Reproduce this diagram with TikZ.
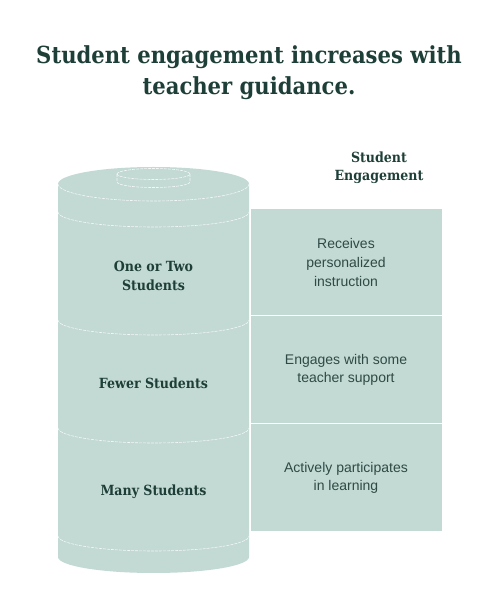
\documentclass[tikz,border=0pt]{standalone}
\usepackage{fontspec}
\setmainfont{Liberation Sans}
\newfontfamily\slabfont{DejaVu Serif Condensed}
\definecolor{sage}{HTML}{C3D9D4}
\definecolor{ink}{HTML}{1E3F37}
\definecolor{softink}{HTML}{2F4A44}
\tikzset{every node/.style={align=center,inner sep=0pt},
  title/.style={font=\slabfont\bfseries\fontsize{23.5}{31}\selectfont,text=ink},
  tier/.style={font=\slabfont\bfseries\fontsize{14}{18.5}\selectfont,text=ink},
  effect/.style={font=\fontsize{14}{18.7}\selectfont,text=softink},
  band/.style={fill=sage,draw=white,line width=1pt},
  rim/.style={draw=white,dash pattern=on 3pt off 1pt,line width=0.6pt,draw opacity=0.8}}

\begin{document}
\begin{tikzpicture}[x=1pt,y=1pt]
    \useasboundingbox (0,0) rectangle (498,600);
    \node[title] (head) at (249,527.5) {Student engagement increases with\\teacher guidance.};
    \node[tier] (col) at (379,432.5) {Student\\Engagement};
    % cylinder body and top
    \path[fill=sage] (58,416) -- (58,43) arc (180:360:95.5 and 16) -- (249,416)
        arc (0:180:95.5 and 17) -- cycle;
    \draw[rim] (58,416) arc (180:360:95.5 and 17);
    \draw[rim] (117,426) arc (180:-180:36.5 and 5.5);
    \draw[rim] (117,426) -- (117,418) arc (180:360:36.5 and 5.5) -- (190,426);
    \foreach \y in {388,280,172,64}{
        \draw[rim] (58,\y) arc (180:360:95.5 and 15);
    }
    % right hand boxes
    \foreach \t/\b/\k in {391/284/1,284/176/2,176/68/3}{
        \draw[band] (250,\b) rectangle (442,\t);
        \coordinate (row\k) at (346,{(\t+\b)/2});
    }
    \foreach \y/\k/\txt in {324/1/{One or Two\\Students},217/2/Fewer Students,108/3/Many Students}{
        \node[tier] (tier\k) at (153.5,\y) {\txt};
    }
    \node[effect] (eff1) at (row1) {Receives\\personalized\\instruction};
    \node[effect] (eff2) at (row2) {Engages with some\\teacher support};
    \node[effect] (eff3) at (row3) {Actively participates\\in learning};
\end{tikzpicture}
\end{document}
